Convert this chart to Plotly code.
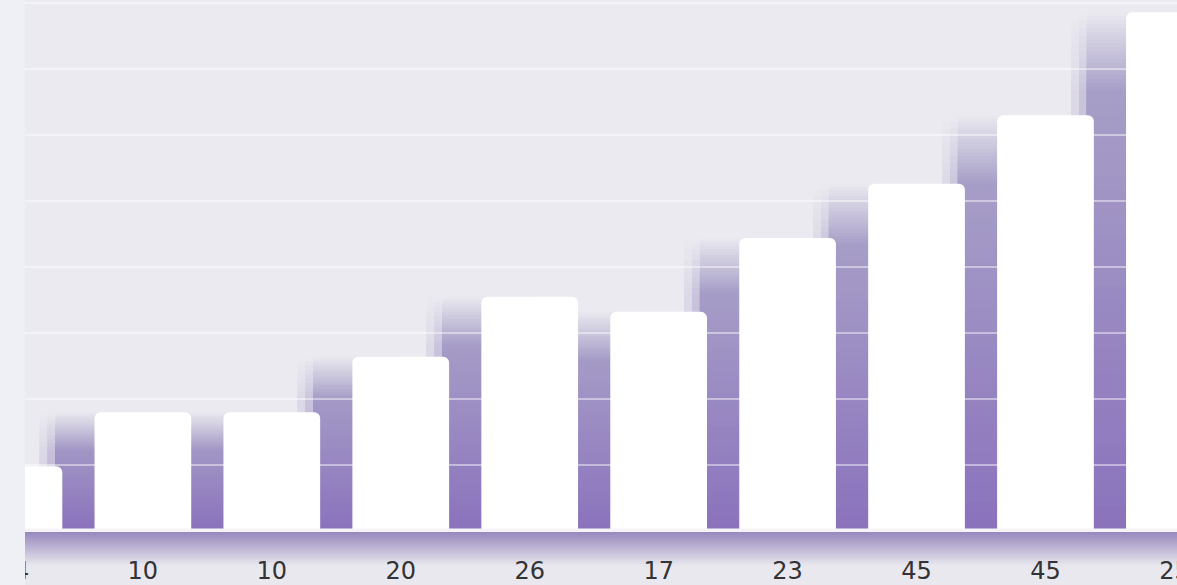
import plotly.graph_objects as go
import numpy as np

# ---- data ----
categories = ["14", "10", "10", "20", "26", "17", "23", "45", "45", "25"]
values = [9.8, 18.0, 18.0, 26.4, 35.5, 33.2, 44.4, 52.6, 63.0, 78.6]

# ---- layout constants ----
W, H = 1177, 585
MB = 54
PLOT_H = H - MB
Y_MAX = 80.45
X_RANGE = [-0.108, 9.02]
BAR_W = 0.75
GRID_STEP = 10
BG = np.array([235, 234, 240])
SH_BOTTOM = np.array([138, 114, 188])
SH_TOP = np.array([172, 166, 201])

xs = list(range(len(values)))
fig = go.Figure()

def fade_len(v):
    return 4.0 + 0.1 * v

def shadow_color(y, v, mult):
    f = min(max(y / v, 0), 1)
    c = SH_BOTTOM * (1 - f) + SH_TOP * f
    a = min(max((v - y) / fade_len(v), 0), 1) ** 0.9 * mult
    out = c * a + BG * (1 - a)
    return "rgb(%d,%d,%d)" % tuple(out.round().astype(int))

def add_shadow_layer(width, mult, m_levels, n_levels):
    # painter's gradient: tallest/lightest first, shorter/darker drawn on top
    levels = []
    for k in range(m_levels):
        levels.append([v - fade_len(v) * k / m_levels for v in values])
    for k in range(n_levels):
        frac = (n_levels - k) / n_levels
        levels.append([(v - fade_len(v)) * frac for v in values])
    for hs in levels:
        cols = [shadow_color(h - 0.2, v, mult) for h, v in zip(hs, values)]
        fig.add_trace(go.Bar(
            x=xs, y=hs, width=width, offset=-width,
            marker=dict(color=cols, line=dict(width=0)),
            hoverinfo="skip", showlegend=False,
        ))

# soft left edge (wide faint layers), then main shadow
add_shadow_layer(0.80, 0.22, 10, 10)
add_shadow_layer(0.74, 0.5, 10, 10)
add_shadow_layer(0.68, 1.0, 20, 36)

# gridlines above shadows, below white bars
gy = list(np.arange(GRID_STEP, Y_MAX, GRID_STEP))
fig.add_trace(go.Bar(
    orientation="h", y=gy, x=[X_RANGE[1] - X_RANGE[0]] * len(gy), base=X_RANGE[0],
    width=0.3, marker=dict(color="rgba(255,255,255,0.45)", line=dict(width=0)),
    hoverinfo="skip", showlegend=False,
))

# white bars
fig.add_trace(go.Bar(
    x=xs, y=values, width=BAR_W,
    marker=dict(color="#ffffff", cornerradius=6, line=dict(width=0)),
    showlegend=False, hoverinfo="skip",
))

# ---- shapes: axis band gradient, left stripe ----
shapes = []
def py(px):
    return (PLOT_H - px) / PLOT_H

band_top, band_bot = 531, 566
c0 = np.array([152, 136, 190])
c1 = np.array([231, 230, 237])
n = 18
for k in range(n):
    t = k / (n - 1)
    c = (c0 * (1 - t) + c1 * t).astype(int)
    y0 = band_top + (band_bot - band_top) * k / n
    y1 = band_top + (band_bot - band_top) * (k + 1) / n + 0.6
    shapes.append(dict(type="rect", xref="paper", yref="paper", x0=0, x1=1,
                       y0=py(y1), y1=py(y0), line=dict(width=0),
                       fillcolor=f"rgb({c[0]},{c[1]},{c[2]})", layer="below"))
# thin light line between bars and band
shapes.append(dict(type="rect", xref="paper", yref="paper", x0=0, x1=1,
                   y0=py(532), y1=py(528.5), line=dict(width=0),
                   fillcolor="#f5f3f8", layer="above"))
# left stripe
shapes.append(dict(type="rect", xref="paper", yref="paper", x0=0, x1=25 / W,
                   y0=py(H), y1=1, line=dict(width=0),
                   fillcolor="#eef0f5", layer="above"))

fig.update_layout(
    width=W, height=H,
    margin=dict(l=0, r=0, t=0, b=MB, pad=0, autoexpand=False),
    paper_bgcolor="#e9e8ee",
    plot_bgcolor="#ebeaf0",
    shapes=shapes,
    barmode="overlay",
    xaxis=dict(range=X_RANGE, tickvals=xs, ticktext=categories,
               showgrid=False, zeroline=False, showline=False,
               ticks="outside", ticklen=18, tickcolor="rgba(0,0,0,0)",
               ticklabeloverflow="allow", automargin=False,
               tickfont=dict(family="DejaVu Sans", size=24, color="#333335"),
               fixedrange=True),
    yaxis=dict(range=[0, Y_MAX], showgrid=False, zeroline=False, automargin=False,
               showticklabels=False, showline=False, fixedrange=True),
)

fig.write_html("out.html")
